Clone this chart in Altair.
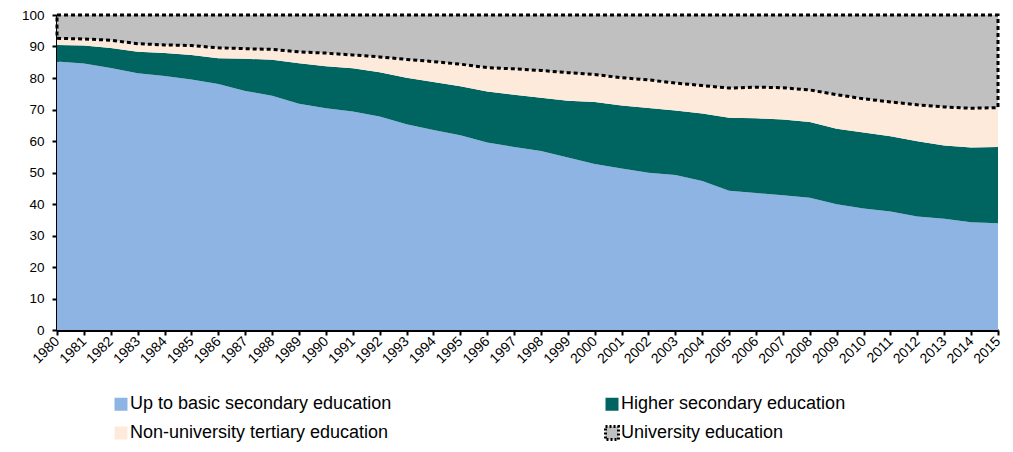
import altair as alt
import pandas as pd

years = list(range(1980, 2016))

# shares of the population by highest level of education (%), stacked to 100
basic = [85.2, 84.6, 83.2, 81.5, 80.6, 79.5, 78.1, 75.9, 74.4, 71.8,
         70.4, 69.4, 67.8, 65.3, 63.5, 61.8, 59.5, 58.1, 56.8, 54.8,
         52.7, 51.3, 49.9, 49.2, 47.3, 44.2, 43.5, 42.8, 42.0, 39.9,
         38.6, 37.6, 36.0, 35.3, 34.2, 33.9]
higher = [5.3, 5.7, 6.3, 6.8, 7.3, 7.8, 8.2, 10.2, 11.4, 12.9,
          13.3, 13.7, 14.0, 14.8, 15.2, 15.6, 16.2, 16.6, 16.9, 18.0,
          19.7, 20.0, 20.6, 20.5, 21.4, 23.2, 23.7, 24.0, 24.0, 24.0,
          24.1, 23.9, 23.9, 23.3, 23.7, 24.2]
non_univ = [2.1, 2.1, 2.5, 2.6, 2.6, 3.0, 3.3, 3.2, 3.3, 3.6,
            4.2, 4.2, 4.9, 5.8, 6.5, 7.0, 7.6, 8.2, 8.7, 8.9,
            8.7, 8.8, 8.9, 8.7, 8.9, 9.4, 9.9, 10.1, 10.2, 10.8,
            10.7, 10.9, 11.6, 12.2, 12.5, 12.5]
univ = [7.4, 7.6, 8.0, 9.1, 9.5, 9.7, 10.4, 10.7, 10.9, 11.7,
        12.1, 12.7, 13.3, 14.1, 14.8, 15.6, 16.7, 17.1, 17.6, 18.3,
        18.9, 19.9, 20.6, 21.6, 22.4, 23.2, 22.9, 23.1, 23.8, 25.3,
        26.6, 27.6, 28.5, 29.2, 29.6, 29.4]

categories = ["Up to basic secondary education", "Higher secondary education",
              "Non-university tertiary education", "University education"]
colors = ["#8EB4E3", "#006461", "#FDEADA", "#C0C0C0"]
outline = ["transparent", "transparent", "transparent", "black"]

rows = []
for k, (cat, vals) in enumerate(zip(categories, [basic, higher, non_univ, univ])):
    for yr, v in zip(years, vals):
        rows.append({"year": yr, "category": cat, "share": v, "rank": k})
df = pd.DataFrame(rows)

legend = alt.Legend(
    title=None, orient="none", legendX=55, legendY=380, columns=2,
    direction="horizontal", columnPadding=207, rowPadding=3, padding=0,
    symbolType="square", symbolSize=169, symbolDash=[2, 2],
    symbolStrokeWidth=3, labelOffset=0, labelFont="Liberation Sans",
    labelFontSize=18, labelColor="black", labelLimit=400, symbolOpacity=1,
)

axis_style = dict(
    labelFont="Liberation Sans", labelColor="black", domainColor="black",
    domainWidth=3, tickColor="black", tickWidth=2, tickSize=5, grid=False,
)

chart = alt.Chart(df).mark_area(
    strokeDash=[4, 3], strokeWidth=3, opacity=1
).encode(
    x=alt.X("year:Q", title=None,
            scale=alt.Scale(domain=[1980, 2015], nice=False, zero=False),
            axis=alt.Axis(values=years, format="d", labelAngle=-45,
                          labelAlign="right", labelBaseline="middle",
                          labelFontSize=14, labelPadding=4,
                          labelOverlap=False, **axis_style)),
    y=alt.Y("share:Q", title=None, stack="zero",
            scale=alt.Scale(domain=[0, 100], nice=False),
            axis=alt.Axis(values=list(range(0, 101, 10)), labelFontSize=13.5,
                          labelPadding=8, **axis_style)),
    color=alt.Color("category:N", sort=categories,
                    scale=alt.Scale(domain=categories, range=colors),
                    legend=legend),
    stroke=alt.Stroke("category:N", sort=categories,
                      scale=alt.Scale(domain=categories, range=outline),
                      legend=legend),
    order=alt.Order("rank:Q"),
).properties(
    width=941, height=315, autosize="none",
    padding={"left": 49, "top": 7, "right": 7, "bottom": 112},
).configure_view(stroke=None)

chart.save("out.html", embed_options={"renderer": "svg", "actions": False})
